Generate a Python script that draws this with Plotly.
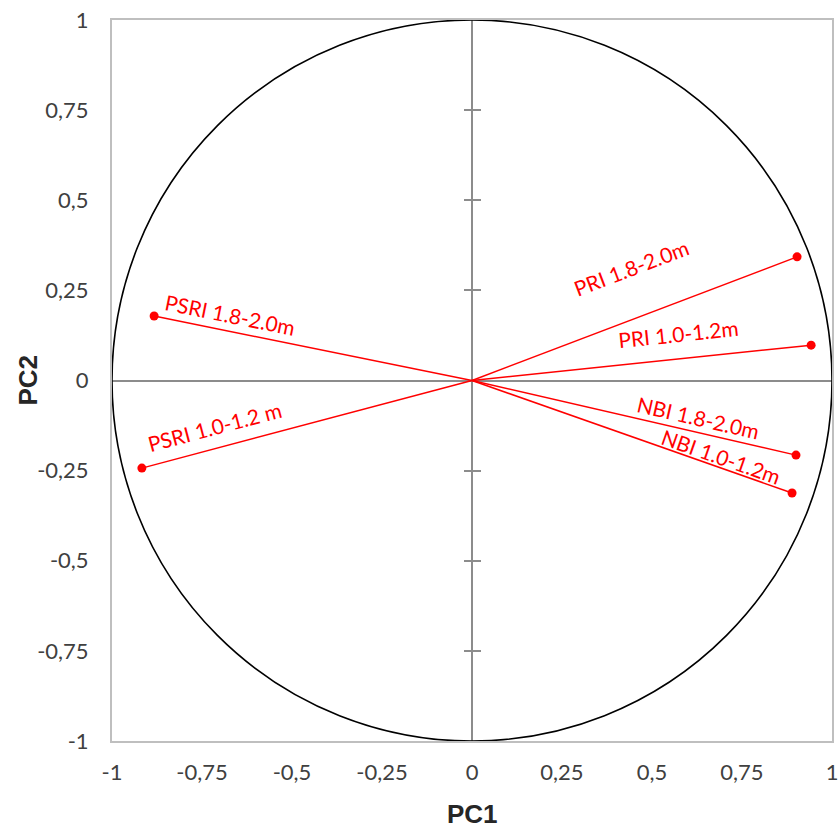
import math
import plotly.graph_objects as go

# ---- data ----
labels = ["PRI 1.8-2.0m", "PRI 1.0-1.2m", "NBI 1.8-2.0m", "NBI 1.0-1.2m",
          "PSRI 1.8-2.0m", "PSRI 1.0-1.2 m"]
pc1 = [0.903, 0.942, 0.900, 0.889, -0.883, -0.917]
pc2 = [0.343, 0.098, -0.207, -0.312, 0.179, -0.243]

tick_vals = [-1, -0.75, -0.5, -0.25, 0, 0.25, 0.5, 0.75, 1]
tick_text = ["-1", "-0,75", "-0,5", "-0,25", "0", "0,25", "0,5", "0,75", "1"]
inner_ticks = [-0.75, -0.5, -0.25, 0.25, 0.5, 0.75]

# label placement (fraction along vector, pixel shift)
label_t = [0.49, 0.61, 0.70, 0.78, 0.76, 0.78]
label_shift = [52, 25, 15, 12, 17, 22]

RED = "#ff0000"
fig = go.Figure()

for x, y in zip(pc1, pc2):
    fig.add_trace(go.Scatter(x=[0, x], y=[0, y], mode="lines",
                             line=dict(color=RED, width=1.5),
                             hoverinfo="skip", showlegend=False))
fig.add_trace(go.Scatter(x=pc1, y=pc2, mode="markers",
                         marker=dict(color=RED, size=9),
                         showlegend=False))

# unit correlation circle
fig.add_shape(type="circle", xref="x", yref="y", x0=-1, y0=-1, x1=1, y1=1,
              line=dict(color="black", width=1.6), layer="above")

for lab, x, y, t, s in zip(labels, pc1, pc2, label_t, label_shift):
    ang = math.degrees(math.atan2(y, x))
    if x < 0:
        ang = ang - 180 if ang > 0 else ang + 180
    fig.add_annotation(x=t * x, y=t * y, text=lab, showarrow=False,
                       textangle=-ang, yshift=s,
                       font=dict(family="Lato", size=21, color=RED))

# axis titles
fig.add_annotation(xref="paper", yref="paper", x=0.5, y=0, yshift=-73,
                   xanchor="center", yanchor="middle", showarrow=False,
                   text="<b>PC1</b>",
                   font=dict(family="Liberation Sans", size=26, color="#262626"))
fig.add_annotation(xref="paper", yref="paper", x=0, y=0.5, xshift=-85,
                   xanchor="center", yanchor="middle", showarrow=False,
                   text="<b>PC2</b>", textangle=-90,
                   font=dict(family="Liberation Sans", size=26, color="#262626"))

axis_common = dict(range=[-1, 1], tickvals=tick_vals, ticktext=tick_text,
                   showgrid=False, zeroline=True, zerolinecolor="#8c8c8c",
                   zerolinewidth=1.5, showline=True, mirror=True,
                   linecolor="#bfbfbf", linewidth=2, ticks="",
                   automargin=False, ticklabeloverflow="allow")

fig.update_layout(
    width=838, height=828,
    margin=dict(l=112, r=6, t=20, b=87),
    plot_bgcolor="white", paper_bgcolor="white",
    font=dict(family="Lato", size=22, color="#404040"),
    xaxis=dict(**axis_common, ticklabelstandoff=11),
    yaxis=dict(**axis_common, ticklabelstandoff=17),
    yaxis2=dict(range=[-1, 1], overlaying="y", anchor="free", position=0.5,
                tickvals=inner_ticks, ticks="outside", ticklen=8,
                tickcolor="#8c8c8c", tickwidth=1.5, showticklabels=False,
                showgrid=False, zeroline=False, showline=False,
                automargin=False),
    yaxis3=dict(range=[-1, 1], overlaying="y", anchor="free", position=0.5,
                tickvals=inner_ticks, ticks="inside", ticklen=8,
                tickcolor="#8c8c8c", tickwidth=1.5, showticklabels=False,
                showgrid=False, zeroline=False, showline=False,
                automargin=False),
)
fig.add_trace(go.Scatter(x=[None], y=[None], yaxis="y2", showlegend=False))
fig.add_trace(go.Scatter(x=[None], y=[None], yaxis="y3", showlegend=False))

# remove the browser's default 8px body margin so the figure fills the window
post = ("document.body.style.margin='0';"
        "document.documentElement.style.overflow='hidden';"
        "document.body.style.overflow='hidden';")
fig.write_html("out.html", post_script=post,
               config={"displayModeBar": False})
